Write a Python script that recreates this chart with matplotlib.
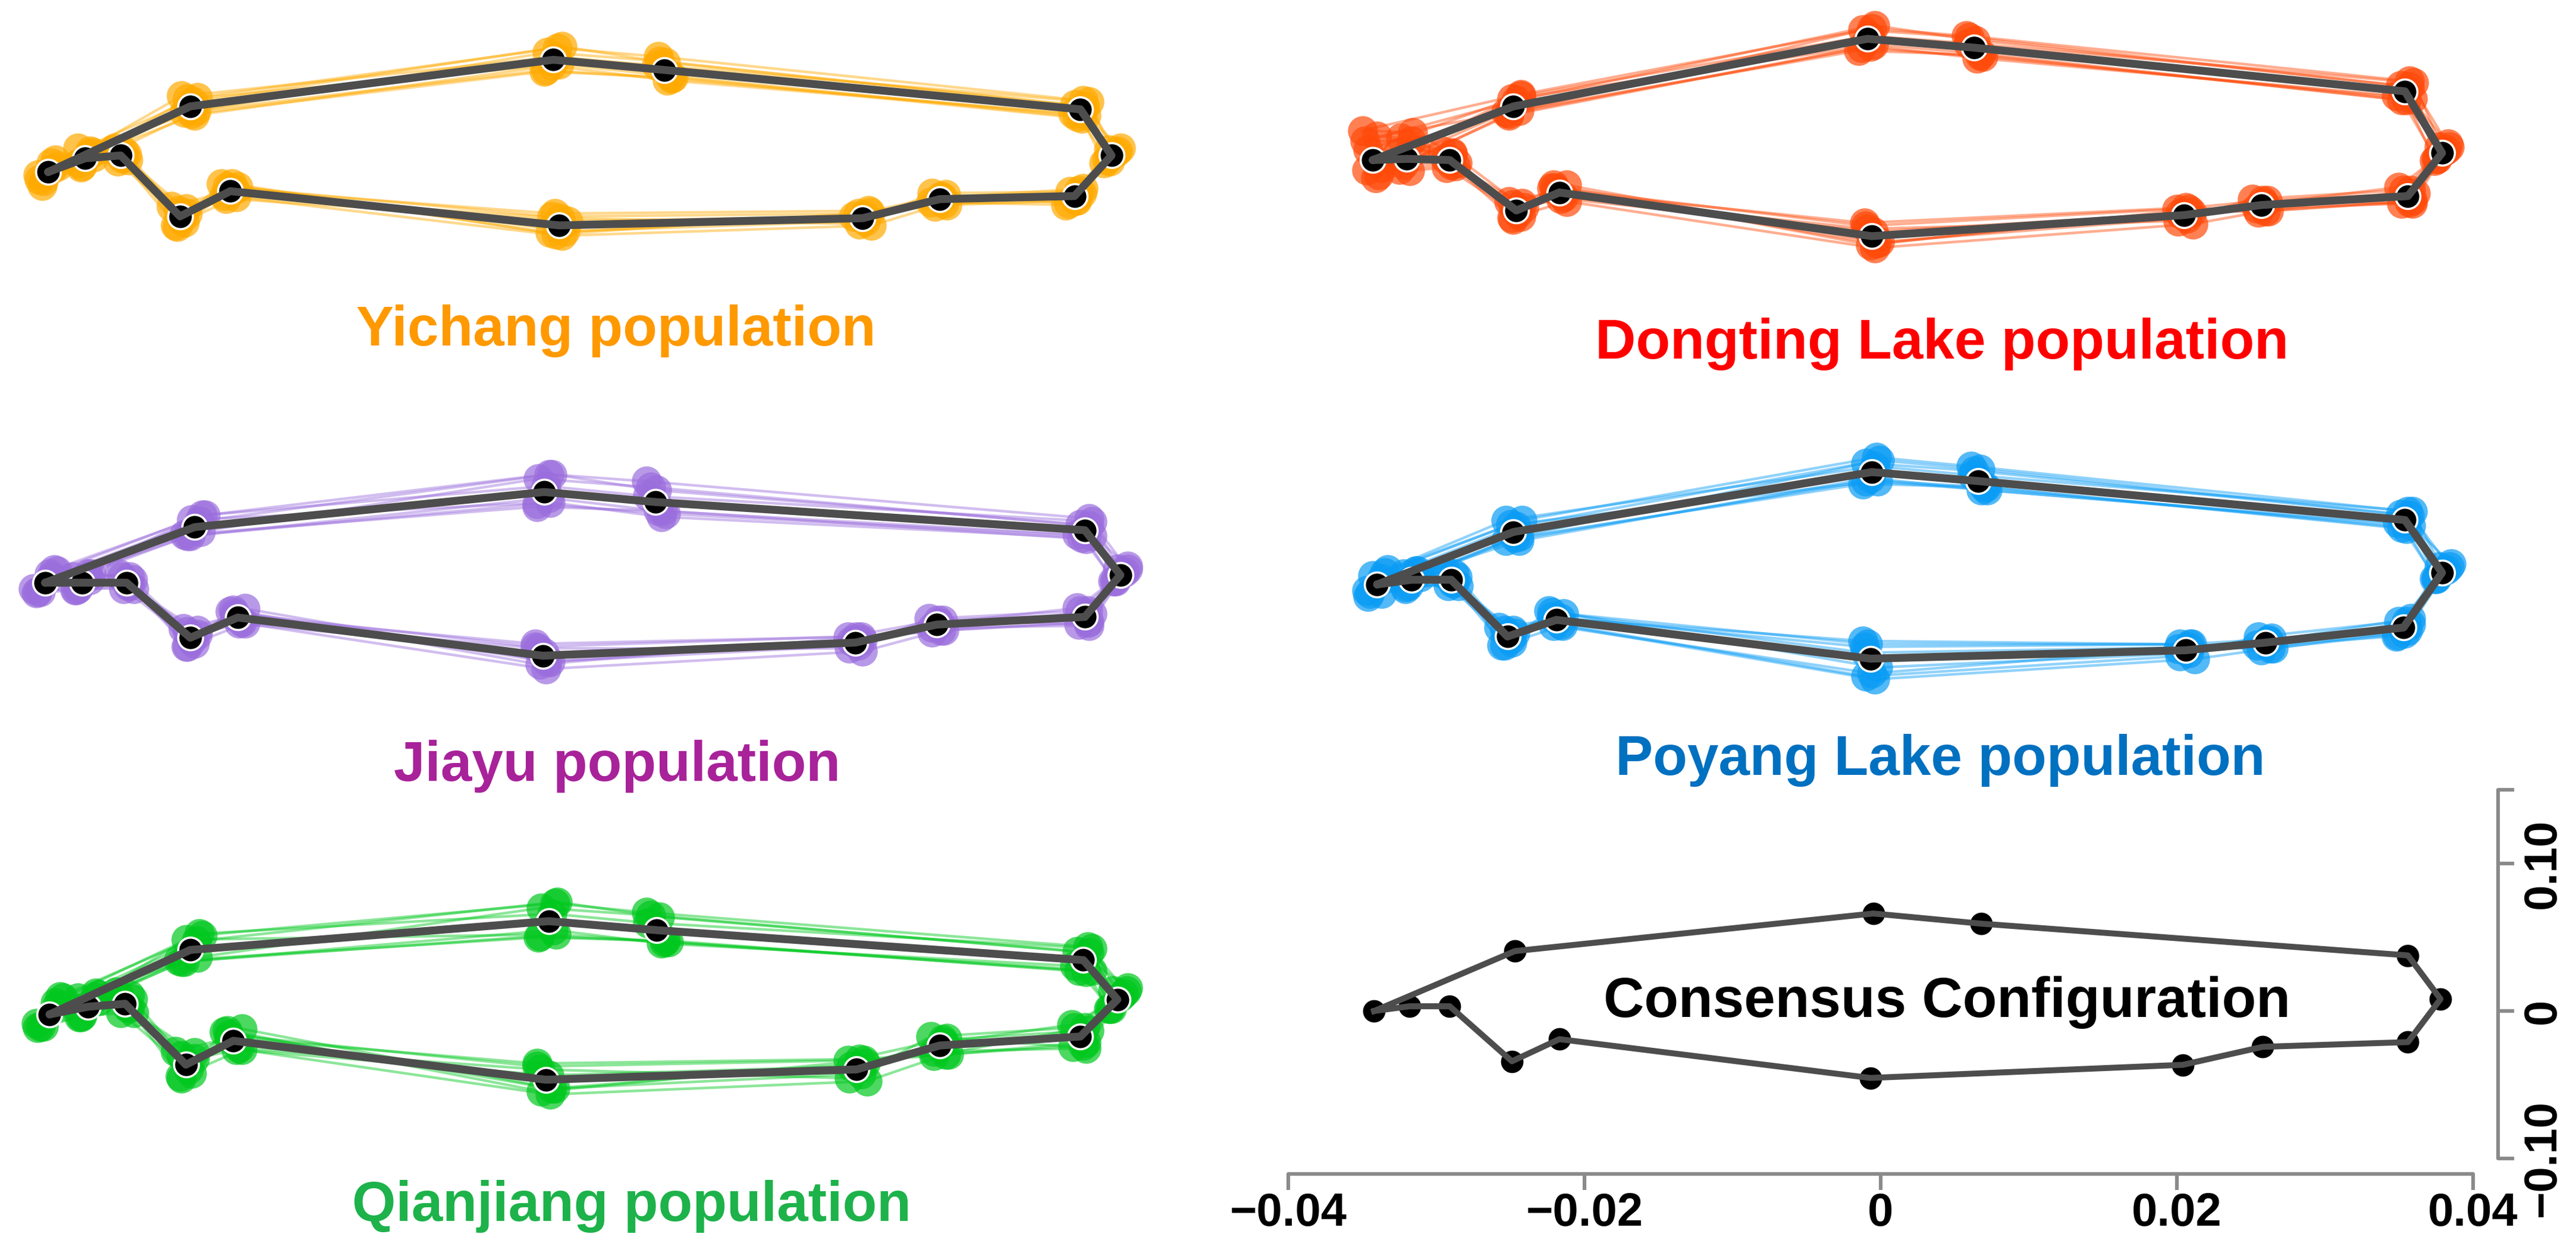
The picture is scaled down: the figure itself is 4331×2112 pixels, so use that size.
import matplotlib
matplotlib.use("Agg")
import matplotlib.pyplot as plt

plt.rcParams['font.family'] = ['Liberation Sans', 'DejaVu Sans']

# ---------------- data: mean landmark configurations (14 landmarks, outline order) ----
YC_x = [-0.0343, -0.0318, -0.0294, -0.0254, -0.0220, 0.0002, 0.0207, 0.0259, 0.0350, 0.0375, 0.0354, 0.0073, -0.0002, -0.0247]
YC_y = [-0.0017, 0.0076, 0.0095, -0.0318, -0.0147, -0.0379, -0.0330, -0.0201, -0.0180, 0.0095, 0.0408, 0.0675, 0.0744, 0.0428]

DT_x = [-0.0343, -0.0320, -0.0291, -0.0246, -0.0217, -0.0006, 0.0205, 0.0257, 0.0356, 0.0379, 0.0354, 0.0063, -0.0009, -0.0248]
DT_y = [0.0064, 0.0072, 0.0064, -0.0278, -0.0156, -0.0452, -0.0309, -0.0241, -0.0180, 0.0112, 0.0530, 0.0826, 0.0886, 0.0428]

JY_x = [-0.0345, -0.0320, -0.0290, -0.0247, -0.0215, -0.0009, 0.0202, 0.0257, 0.0357, 0.0381, 0.0357, 0.0067, -0.0008, -0.0244]
JY_y = [0.0037, 0.0037, 0.0037, -0.0336, -0.0199, -0.0458, -0.0369, -0.0247, -0.0195, 0.0089, 0.0393, 0.0584, 0.0652, 0.0414]

PY_x = [-0.0340, -0.0317, -0.0290, -0.0252, -0.0219, -0.0007, 0.0206, 0.0260, 0.0353, 0.0379, 0.0354, 0.0066, -0.0006, -0.0248]
PY_y = [0.0025, 0.0057, 0.0057, -0.0328, -0.0215, -0.0478, -0.0421, -0.0369, -0.0267, 0.0105, 0.0462, 0.0726, 0.0787, 0.0381]

QJ_x = [-0.0342, -0.0316, -0.0291, -0.0250, -0.0218, -0.0007, 0.0203, 0.0259, 0.0354, 0.0379, 0.0356, 0.0068, -0.0005, -0.0247]
QJ_y = [-0.0023, 0.0029, 0.0049, -0.0364, -0.0202, -0.0466, -0.0396, -0.0234, -0.0173, 0.0078, 0.0345, 0.0548, 0.0609, 0.0414]

CS_x = [-0.0342, -0.0318, -0.0291, -0.0249, -0.0217, -0.0007, 0.0204, 0.0258, 0.0356, 0.0378, 0.0356, 0.0068, -0.0005, -0.0247]
CS_y = [0.0000, 0.0032, 0.0032, -0.0341, -0.0191, -0.0454, -0.0365, -0.0243, -0.0211, 0.0081, 0.0377, 0.0592, 0.0661, 0.0406]

# ---------------- specimen deviations from the mean (dx in 1e-4, dy in 1e-3) --------
YC_dx = [[5, 3, 2, -3, 4, 2, 6, 3, 1, 4, 2, -4, 3, 5],
         [-6, -4, 2, 4, -2, -5, -3, 1, 5, -3, 4, 5, -5, -4],
         [3, 6, -4, 1, -6, 4, 2, -5, -3, 6, -4, 1, 6, 2],
         [-4, -2, 5, -6, 3, -3, 4, 5, 2, -5, 1, 6, -6, 1],
         [7, -5, 1, 5, -3, 6, -6, 2, 6, 1, 6, -5, 2, -6],
         [-7, 3, -5, -2, 5, -6, 1, -6, -6, 3, -5, 2, -1, 3],
         [2, -3, 4, -1, -4, 1, -2, 4, -4, -2, 3, -3, -4, 4],
         [-3, 5, -2, 3, 1, -2, 5, -3, 3, -1, -2, 4, 4, -2]]
YC_dy = [[8, 5, 3, -6, -4, -7, -5, -3, -3, 3, 6, 9, 8, 6],
         [-5, -3, -1, 5, 3, 6, 3, 2, 2, -3, -4, -6, -7, -4],
         [2, 1, 5, -2, 5, -4, -2, 4, 3, 5, 3, 5, 9, 3],
         [-9, -5, -3, 7, 1, 8, 5, -4, -3, -5, -6, -5, -8, -5],
         [4, 7, -2, 2, -5, 3, 1, 1, 5, 1, 5, 3, 2, 7],
         [-2, 3, 4, -7, 3, -5, 2, -2, -6, 2, -3, -7, -4, -6],
         [6, -6, 1, 4, -3, 5, -4, 3, -5, 4, 2, 6, 5, -3],
         [-6, 4, -4, -4, 5, -6, 4, -5, 4, -4, -5, -4, -3, 5]]

DT_dx = [[-7, 4, 2, -3, 5, 2, 6, 3, 1, 5, 3, -5, 3, 5],
         [4, -5, 1, 4, -3, -4, -5, 1, 5, -3, 5, 6, -4, -3],
         [-5, 3, -5, 1, 5, 5, 2, -6, -3, 4, -3, 1, 5, 2],
         [6, -2, 5, -5, -2, -5, 1, 5, 3, -5, 1, 4, -6, -5],
         [-3, 6, 2, 5, 1, 1, -3, 2, -6, 1, 6, -4, 1, 5],
         [2, -6, -3, -2, -5, 3, 5, -3, 3, 3, -6, 2, 2, -3],
         [3, -4, 4, -2, 3, -3, -4, 4, -4, -2, 3, -3, -3, 4],
         [-4, 2, -2, 3, -4, -1, 3, -2, 2, -4, -2, 5, 4, -1]]
DT_dy = [[20, 18, 5, -5, -6, -8, -6, -4, -4, 4, 7, 8, 7, 8],
         [-10, -7, -3, 5, 3, 7, 4, 3, 2, -4, -5, -6, -6, -6],
         [13, 12, 6, -2, 5, -4, -2, 4, 4, 6, 4, 5, 9, 4],
         [-5, -4, -2, 6, 1, 9, 5, -4, -3, -5, -6, -5, -8, -4],
         [7, 6, 4, 2, -4, 3, 1, 1, 6, 1, 6, 3, 2, 7],
         [-12, 4, 1, -6, 3, -5, 2, -2, -5, 2, -3, -7, -5, -5],
         [16, 14, -4, 4, -3, 5, -4, 3, -5, 4, 3, 7, 6, -3],
         [-7, -8, -5, -4, 5, -6, 4, -5, 4, -4, -6, -4, -4, 5]]

JY_dx = [[6, 4, 2, -3, 5, 2, 5, 3, 2, 5, 3, -6, 3, 7],
         [-6, -5, 1, 5, -2, -5, -5, 1, 5, -3, 5, 7, -5, -5],
         [4, 5, -5, 1, 5, 5, 2, -5, -3, 5, -3, 1, 5, 3],
         [-5, -3, 5, -5, -2, -5, 1, 5, 3, -5, 1, 5, -5, -7],
         [8, -6, 2, 5, 1, 1, -3, 2, -5, 1, 5, -5, 1, 5],
         [-8, 6, -3, -2, -5, 3, 5, -3, 3, 3, -5, 2, 3, -3],
         [3, -4, 4, -2, 3, -3, -4, 4, -4, -2, 3, -3, -4, 4],
         [-3, 4, -2, 3, -3, -2, 4, -3, 2, -4, -2, 4, 4, -2]]
JY_dy = [[9, 6, 4, -6, -4, -9, -6, -4, -4, 4, 8, 14, 12, 8],
         [-7, -5, -2, 5, 3, 6, 4, 3, 2, -4, -4, -8, -8, -6],
         [4, 2, 6, -2, 6, -4, -2, 4, 4, 6, 4, 8, 12, 4],
         [-6, -4, -4, 6, 1, 8, 4, -4, -3, -4, -6, -6, -10, -5],
         [8, 4, -2, 2, -4, 2, 1, 1, 6, 1, 6, 4, 4, 8],
         [-4, 6, 4, -6, 4, -4, 2, -2, -6, 2, -3, -6, -4, -6],
         [6, -5, 2, 4, -3, 5, -4, 3, -5, 4, 3, 10, 9, -3],
         [-6, 4, -4, -4, 5, -6, 4, -5, 4, -4, -5, -10, -7, 5]]

PY_dx = [[5, 3, 2, -4, 4, 3, 6, 3, 1, 5, 2, -5, 3, 6],
         [-6, -4, 2, 4, -3, -4, -4, 2, 5, -4, 4, 6, -4, -5],
         [3, 6, -4, 2, -5, 5, 2, -5, -3, 6, -3, 1, 5, 2],
         [-5, -2, 5, -6, 3, -5, 3, 5, 3, -5, 1, 5, -6, 1],
         [7, -5, 1, 5, -2, 1, -5, 2, 5, 1, 5, -4, 2, -5],
         [-7, 4, -5, -2, 5, -3, 2, -6, -5, 3, -5, 2, -1, 4],
         [3, -4, 4, -2, 3, -3, -4, 4, -4, -2, 3, -3, -4, 4],
         [-3, 4, -2, 3, -3, -2, 4, -3, 2, -4, -2, 4, 4, -2]]
PY_dy = [[8, 6, 4, -6, -4, -14, -6, -4, -4, 4, 6, 10, 10, 8],
         [-8, -6, -2, 4, 2, 8, 4, 2, 2, -4, -4, -6, -6, -6],
         [4, 2, 6, -2, 6, -6, -2, 4, 4, 6, 4, 8, 8, 4],
         [-6, -4, -4, 6, 1, 12, 4, -4, -2, -4, -6, -4, -8, -4],
         [10, 4, -2, 2, -4, -10, 1, 1, 6, 1, 6, 4, 4, 8],
         [-4, 6, 4, -6, 4, 4, 2, -2, -6, 2, -2, -6, -4, -6],
         [-6, -5, 2, 4, -3, -12, -4, 3, -5, 4, 3, 7, 6, -3],
         [6, 4, -4, -4, 5, 10, 4, -5, 4, -4, -5, -4, -6, 5]]

QJ_dx = [[7, 5, 3, -4, 6, 3, 7, 4, 2, 6, 3, -7, 4, 8],
         [-8, -6, 2, 6, -3, -6, -6, 2, 6, -4, 6, 8, -6, -6],
         [5, 7, -6, 2, 6, 6, 3, -6, -4, 7, -4, 2, 6, 4],
         [-6, -4, 6, -7, -3, -6, 2, 6, 4, -6, 2, 6, -7, -8],
         [9, -7, 3, 6, 2, 2, -4, 3, -6, 2, 6, -6, 2, 6],
         [-9, 7, -4, -3, -6, 4, 6, -4, 4, 4, -6, 3, 3, -4],
         [4, -5, 5, -3, 4, -4, -5, 5, -5, -3, 4, -4, -5, 5],
         [-4, 5, -3, 4, -4, -3, 5, -4, 3, -5, -3, 5, 5, -3]]
QJ_dy = [[12, 9, 6, -8, -6, -10, -8, -6, -6, 6, 9, 12, 12, 10],
         [-9, -7, -3, 8, 4, 9, 6, 4, 4, -6, -7, -8, -10, -8],
         [6, 4, 8, -3, 8, -6, -3, 6, 6, 8, 6, 9, 13, 6],
         [-8, -6, -6, 9, 2, 11, 7, -6, -4, -6, -8, -7, -11, -7],
         [11, 6, -3, 4, -6, 3, 2, 2, 8, 2, 8, 5, 5, 11],
         [-6, 8, 6, -9, 6, -6, 4, -4, -8, 4, -4, -9, -6, -8],
         [8, -7, 3, 6, -5, 7, -6, 5, -7, 6, 5, 10, 9, -5],
         [-8, 6, -6, -6, 7, -8, 6, -7, 6, -6, -7, -8, -9, 7]]

TITLES = ['Yichang population', 'Dongting Lake population', 'Jiayu population',
          'Poyang Lake population', 'Qianjiang population']
POINT_COLORS = ['#FFAA00', '#FF4A0A', '#9B6EDD', '#0A9CF5', '#00C81E']
TITLE_COLORS = ['#FF9900', '#FF0000', '#A8229A', '#0070C0', '#1DB24A']

X_TICKS = [-0.04, -0.02, 0, 0.02, 0.04]
X_TICKLABELS = ['\u22120.04', '\u22120.02', '0', '0.02', '0.04']
Y_TICKS = [-0.10, 0, 0.10, 0.15]
Y_TICKLABELS = ['\u22120.10', '0', '0.10', '']

# ---------------- layout ----------------
W, H, DPI = 4331, 2112, 200
fig = plt.figure(figsize=(W / DPI, H / DPI), dpi=DPI)
SX, SY = 24900.0, 2480.0   # pixels per data unit


def panel(xo, yo, xlim, ylim):
    l = (xo + xlim[0] * SX) / W
    w = (xlim[1] - xlim[0]) * SX / W
    b = 1 - (yo - ylim[0] * SY) / H
    h = (ylim[1] - ylim[0]) * SY / H
    ax = fig.add_axes([l, b, w, h])
    ax.set_xlim(*xlim)
    ax.set_ylim(*ylim)
    ax.patch.set_visible(False)
    return ax


def closed(v):
    return list(v) + [v[0]]


pops = [
    (YC_x, YC_y, YC_dx, YC_dy, 935, 285, 1036, 581),
    (DT_x, DT_y, DT_dx, DT_dy, 3162, 285, 3265, 603),
    (JY_x, JY_y, JY_dx, JY_dy, 935, 989, 1038, 1313),
    (PY_x, PY_y, PY_dx, PY_dy, 3162, 989, 3262, 1303),
    (QJ_x, QJ_y, QJ_dx, QJ_dy, 935, 1700, 1062, 2053),
]

for i, (mx, my, ddx, ddy, xo, yo, tx, ty) in enumerate(pops):
    ax = panel(xo, yo, (-0.037, 0.040), (-0.065, 0.10))
    ax.axis('off')
    pc = POINT_COLORS[i]
    specs = []
    for kx, ky in zip(ddx, ddy):
        sx = [m + d * 1e-4 for m, d in zip(mx, kx)]
        sy = [m + d * 1e-3 for m, d in zip(my, ky)]
        specs.append((sx, sy))
    for sx, sy in specs:
        ax.plot(closed(sx), closed(sy), color=pc, alpha=0.45, lw=1.6, zorder=1,
                clip_on=False, solid_joinstyle='round')
    for sx, sy in specs:
        ax.scatter(sx, sy, s=330, color=pc, alpha=0.7, linewidths=0, zorder=2, clip_on=False)
    ax.scatter(mx, my, s=225, c='black', edgecolors='white', linewidths=1.3, zorder=3, clip_on=False)
    ax.plot(closed(mx), closed(my), color='#4D4D4D', lw=4.8, zorder=4, clip_on=False,
            solid_joinstyle='round', solid_capstyle='round')
    fig.text(tx / W, 1 - ty / H, TITLES[i], color=TITLE_COLORS[i], ha='center', va='baseline',
             fontsize=34, fontweight='bold')

# ---------------- consensus panel ----------------
ax = panel(3162, 1700, (-0.045, 0.045), (-0.13, 0.17))
ax.scatter(CS_x, CS_y, s=185, c='black', linewidths=0, zorder=3, clip_on=False)
ax.plot(closed(CS_x), closed(CS_y), color='#4D4D4D', lw=3.6, zorder=4, clip_on=False,
        solid_joinstyle='round')
for s in ['top', 'left']:
    ax.spines[s].set_visible(False)
axc = '#8A8A8A'
ax.spines['bottom'].set_position(('data', -0.1105))
ax.spines['bottom'].set_bounds(-0.04, 0.04)
ax.spines['right'].set_position(('data', 0.0417))
ax.spines['right'].set_bounds(-0.10, 0.15)
for s in ['bottom', 'right']:
    ax.spines[s].set_color(axc)
    ax.spines[s].set_linewidth(2.2)
    ax.spines[s].set_capstyle('round')
ax.set_xticks(X_TICKS)
ax.set_xticklabels(X_TICKLABELS)
ax.yaxis.tick_right()
ax.set_yticks(Y_TICKS)
ax.set_yticklabels(Y_TICKLABELS, rotation=90, va='center')
ax.tick_params(axis='both', direction='out', length=9.7, width=2.2, color=axc,
               labelsize=28, labelcolor='black')
ax.tick_params(axis='x', pad=1)
ax.tick_params(axis='y', pad=4)
for lab in ax.get_xticklabels() + ax.get_yticklabels():
    lab.set_fontweight('bold')
fig.text(3273 / W, 1 - 1710 / H, 'Consensus Configuration', color='black', ha='center',
         va='baseline', fontsize=34, fontweight='bold')

fig.savefig('out.png', dpi=DPI)
